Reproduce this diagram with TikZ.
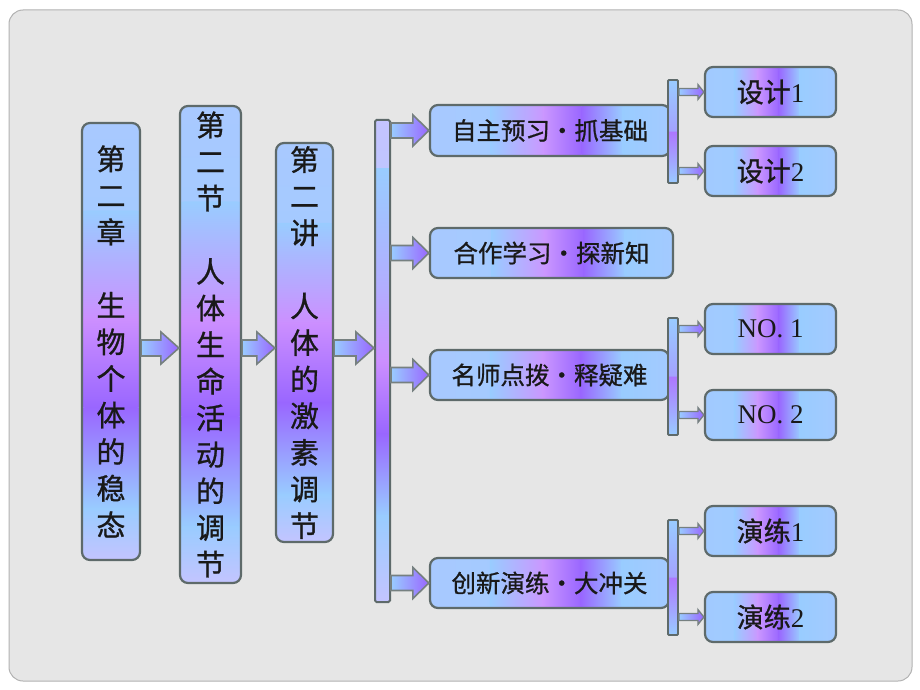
\documentclass[tikz,border=0pt]{standalone}
\usepackage{fontspec}
\setmainfont{Liberation Serif}
\newfontfamily\cjk{Noto Sans CJK SC}[FakeBold=0.9]
\usetikzlibrary{calc}
\definecolor{lb}{HTML}{99CCFF}
\definecolor{lil}{HTML}{CC8FFF}
\definecolor{pur}{HTML}{9966FF}
\definecolor{lav}{HTML}{C4C4FF}
\definecolor{edge}{HTML}{5E6A6A}
\definecolor{panel}{HTML}{E6E6E6}
% piecewise gradients inside a node (path picture)
\newcommand\hseg[4]{\shade[left color=#3, right color=#4]
  ($(path picture bounding box.south west)!#1!(path picture bounding box.south east)+(0,4)$) rectangle
  ($(path picture bounding box.north west)!#2!(path picture bounding box.north east)+(1,-4)$);}
\newcommand\vseg[4]{\shade[top color=#3, bottom color=#4]
  ($(path picture bounding box.north west)!#1!(path picture bounding box.south west)+(-4,0)$) rectangle
  ($(path picture bounding box.north east)!#2!(path picture bounding box.south east)+(4,1)$);}
\newcommand\hgrad{\hseg{0}{0.25}{lb!65!lav}{lb}\hseg{0.25}{0.47}{lb}{lil!85!lav}%
  \hseg{0.47}{0.63}{lil!85!lav}{pur}\hseg{0.63}{0.8}{pur}{lb}\hseg{0.8}{1}{lb}{lb!75!lav}}
\newcommand\rgrad{\hseg{0}{0.22}{lb!80!lav}{lb}\hseg{0.22}{0.4}{lb}{lil!85!lav}%
  \hseg{0.4}{0.56}{lil!85!lav}{pur}\hseg{0.56}{0.72}{pur}{lb}\hseg{0.72}{1}{lb}{lb!75!lav}}
\newcommand\cgrad{\vseg{0}{0.2}{lb!65!lav}{lb}\vseg{0.2}{0.45}{lb}{lil}%
  \vseg{0.45}{0.65}{lil}{pur}\vseg{0.65}{0.88}{pur}{lb}\vseg{0.88}{1}{lb}{lav}}
\newcommand\bgrad{\vseg{0}{0.1}{lav}{lb}\vseg{0.1}{0.35}{lb}{lb!50!lil}%
  \vseg{0.35}{0.5}{lb!50!lil}{lil}\vseg{0.5}{0.65}{lil}{pur}\vseg{0.65}{0.82}{pur}{lb}\vseg{0.82}{1}{lb}{lav}}
\newcommand\kgrad{\vseg{0}{0.5}{lb}{pur!60!lil}\vseg{0.5}{1}{pur!60!lil}{lb}}
\newcommand\blockarr[6]{%
  \path[#6] let \p1=(#1), \p2=(#2) in
   (\x1,{\y1+#3}) -- ({\x2-#5},{\y1+#3}) -- ({\x2-#5},{\y1+#4}) -- (\x2,\y1)
   -- ({\x2-#5},{\y1-#4}) -- ({\x2-#5},{\y1-#3}) -- (\x1,{\y1-#3}) -- cycle;}
\tikzset{
  colbox/.style={draw=edge, line width=2.2pt, rounded corners=8pt, fill=lb!60!lil,
    path picture={\cgrad}, inner sep=0pt, align=center, text=black!90,
    font=\cjk\fontsize{29}{36.6}\selectfont},
  midbox/.style={draw=edge, line width=2.2pt, rounded corners=8pt, fill=lb!60!lil,
    path picture={\hgrad}, inner sep=0pt, text=black!90,
    font=\cjk\fontsize{24.5}{28}\selectfont},
  rbox/.style={draw=edge, line width=2.2pt, rounded corners=8pt, fill=lb!60!lil,
    path picture={\rgrad}, inner sep=0pt, minimum width=131pt, minimum height=50pt,
    text=black!90, font=\fontsize{27}{30}\selectfont},
  mainbar/.style={draw=edge, line width=2pt, fill=lb!60!lil, path picture={\bgrad}, inner sep=0pt,
    minimum width=15pt, rounded corners=1.5pt},
  brk/.style={draw=edge, line width=1.8pt, fill=lb!60!lil, path picture={\kgrad}, inner sep=0pt,
    minimum width=10pt, rounded corners=1pt},
  barrow/.style={draw=edge!85, line width=1.6pt, left color=lb, right color=pur},
  sarrow/.style={draw=edge!85, line width=1.3pt, left color=lb, right color=pur},
}
\begin{document}
\begin{tikzpicture}[x=1pt,y=-1pt]
\useasboundingbox (0,0) rectangle (920,690);
\fill[white] (0,0) rectangle (920,690);
\draw[fill=panel, draw=black!30, line width=1pt, rounded corners=14pt] (9,10) rectangle (912,681);
% columns
\node[colbox, minimum width=58pt, minimum height=437pt] (col1) at (111,341.5)
  {第\\二\\章\\[36.6pt]生\\物\\个\\体\\的\\稳\\态};
\node[colbox, minimum width=61pt, minimum height=477pt] (col2) at (210.5,344.5)
  {第\\二\\节\\[36.6pt]人\\体\\生\\命\\活\\动\\的\\调\\节};
\node[colbox, minimum width=57pt, minimum height=399pt] (col3) at (304.5,342.5)
  {第\\二\\讲\\[36.6pt]人\\体\\的\\激\\素\\调\\节};
\node[mainbar, minimum height=482pt] (bar) at (382.5,361) {};
\coordinate (ay) at (0,348);
\blockarr{col1.east |- ay}{col2.west}{8pt}{16pt}{18pt}{barrow}
\blockarr{col2.east |- ay}{col3.west}{8pt}{16pt}{18pt}{barrow}
\blockarr{col3.east |- ay}{bar.west}{8pt}{16pt}{18pt}{barrow}
% middle boxes
\node[midbox, minimum width=240pt, minimum height=51pt] (m1) at (550,130.5) {自主预习・抓基础};
\node[midbox, minimum width=243pt, minimum height=50pt] (m2) at (551.5,253) {合作学习・探新知};
\node[midbox, minimum width=239pt, minimum height=50pt] (m3) at (549.5,375) {名师点拨・释疑难};
\node[midbox, minimum width=239pt, minimum height=50pt] (m4) at (549.5,583) {创新演练・大冲关};
\foreach \m in {m1,m2,m3,m4}{
  \blockarr{bar.east |- \m.west}{\m.west}{7.5pt}{15.5pt}{16pt}{barrow}
}
% brackets
\node[brk, minimum height=103pt] (b1) at (673,131.5) {};
\node[brk, minimum height=117pt] (b3) at (673,376.5) {};
\node[brk, minimum height=115pt] (b4) at (673,577.5) {};
% right boxes
\node[rbox] (r1) at (770.5,92) {{\cjk 设计}1};
\node[rbox] (r2) at (770.5,171) {{\cjk 设计}2};
\node[rbox] (r3) at (770.5,329) {NO. 1};
\node[rbox] (r4) at (770.5,415) {NO. 2};
\node[rbox] (r5) at (770.5,531) {{\cjk 演练}1};
\node[rbox] (r6) at (770.5,617) {{\cjk 演练}2};
\blockarr{b1.east |- r1.west}{r1.west}{3.5pt}{7.5pt}{6pt}{sarrow}
\blockarr{b1.east |- r2.west}{r2.west}{3.5pt}{7.5pt}{6pt}{sarrow}
\blockarr{b3.east |- r3.west}{r3.west}{3.5pt}{7.5pt}{6pt}{sarrow}
\blockarr{b3.east |- r4.west}{r4.west}{3.5pt}{7.5pt}{6pt}{sarrow}
\blockarr{b4.east |- r5.west}{r5.west}{3.5pt}{7.5pt}{6pt}{sarrow}
\blockarr{b4.east |- r6.west}{r6.west}{3.5pt}{7.5pt}{6pt}{sarrow}
\end{tikzpicture}
\end{document}
